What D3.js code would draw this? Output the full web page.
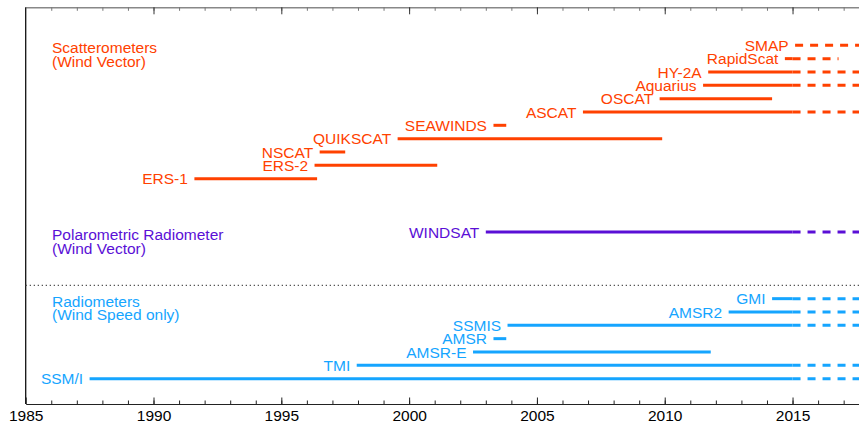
<!DOCTYPE html>
<html lang="en">
<head>
  <meta charset="UTF-8">
  <title>Ocean Wind Satellite Missions</title>
  <script src="https://d3js.org/d3.v7.min.js"></script>
  <style>
    body {
      margin: 0;
      background: #fff;
      font-family: "Liberation Sans", Arial, sans-serif;
    }

    .label {
      font-size: 15.5px;
    }

    .title {
      font-size: 15.5px;
    }
  </style>
</head>
<body>
  <div id="chart"></div>

  <script>
    // Mission data: name, start year, end year (null = still flying), row, group
    const groups = ["Scatterometers", "Polarometric Radiometer", "Radiometers"];
    const groupSubtitles = ["(Wind Vector)", "(Wind Vector)", "(Wind Speed only)"];
    const groupColors = ["#ff4100", "#5a0fd6", "#15a5ff"];

    const names = [
      "SMAP", "RapidScat", "HY-2A", "Aquarius", "OSCAT", "ASCAT", "SEAWINDS", "QUIKSCAT", "NSCAT", "ERS-2", "ERS-1",
      "WINDSAT",
      "GMI", "AMSR2", "SSMIS", "AMSR", "AMSR-E", "TMI", "SSM/I"
    ];
    const starts = [
      2015.1, 2014.7, 2011.7, 2011.5, 2009.8, 2006.8, 2003.3, 1999.55, 1996.5, 1996.3, 1991.6,
      2003.0,
      2014.2, 2012.5, 2003.85, 2003.3, 2002.5, 1997.95, 1987.5
    ];
    const ends = [
      null, 2016.8, null, null, 2014.2, null, 2003.8, 2009.9, 1997.5, 2001.1, 1996.4,
      null,
      null, null, null, 2003.8, 2011.8, null, null
    ];
    const rows = [
      25, 24, 23, 22, 21, 20, 19, 18, 17, 16, 15,
      11,
      6, 5, 4, 3, 2, 1, 0
    ];
    const groupOf = [
      0, 0, 0, 0, 0, 0, 0, 0, 0, 0, 0,
      1,
      2, 2, 2, 2, 2, 2, 2
    ];
    const separatorRow = 7;
    const solidUntil = 2015;
    const axisEnd = 2017.6;

    const width = 859;
    const height = 429;

    const svg = d3.select("#chart")
      .append("svg")
      .attr("width", width)
      .attr("height", height);

    const x = d3.scaleLinear()
      .domain([1985, axisEnd])
      .range([25.7, width]);

    const y = d3.scaleLinear()
      .domain([-1.9, 27.85])
      .range([404, 7.3]);

    const missions = names.map((n, i) => ({
      name: n,
      start: starts[i],
      end: ends[i],
      row: rows[i],
      group: groupOf[i]
    }));

    // top frame axis (gray, ticks pointing down)
    const topMinor = svg.append("g")
      .attr("transform", `translate(0,${y(27.85)})`)
      .call(d3.axisTop(x).tickValues(d3.range(1986, 2018)).tickSizeInner(-3.5).tickSizeOuter(0).tickFormat(""));
    const topMajor = svg.append("g")
      .attr("transform", `translate(0,${y(27.85)})`)
      .call(d3.axisTop(x).tickValues(d3.range(1990, 2018, 5)).tickSizeInner(-7).tickSizeOuter(0).tickFormat(""));
    topMinor.selectAll("line").attr("stroke", "#777");
    topMajor.selectAll("line").attr("stroke", "#333");
    topMinor.select(".domain").attr("stroke", "#888").attr("stroke-width", 1.5);
    topMajor.select(".domain").remove();

    // bottom axis (ticks pointing up)
    const bottomMinor = svg.append("g")
      .attr("class", "axis")
      .attr("transform", `translate(0,${y(-1.9)})`)
      .call(d3.axisBottom(x).tickValues(d3.range(1986, 2018)).tickSizeInner(-3.5).tickSizeOuter(0).tickFormat(""));
    const bottomMajor = svg.append("g")
      .attr("class", "axis")
      .attr("transform", `translate(0,${y(-1.9)})`)
      .call(d3.axisBottom(x).tickValues(d3.range(1985, 2018, 5)).tickSizeInner(-6.5).tickSizeOuter(0).tickPadding(6).tickFormat(d3.format("d")));
    bottomMinor.select(".domain").attr("stroke", "#222");
    bottomMajor.select(".domain").remove();
    bottomMajor.attr("font-size", 15.5).attr("font-family", "'Liberation Sans', Arial, sans-serif");
    bottomMajor.selectAll("text").attr("fill", "#000");
    svg.selectAll(".axis line").attr("stroke", "#222");

    // left frame line
    svg.append("line")
      .attr("x1", x(1985)).attr("x2", x(1985))
      .attr("y1", y(27.85)).attr("y2", y(-1.9))
      .attr("stroke", "#111")
      .attr("stroke-width", 1.3);

    // dotted separator between vector and speed-only instruments
    svg.append("line")
      .attr("x1", x(1985)).attr("x2", width)
      .attr("y1", y(separatorRow)).attr("y2", y(separatorRow))
      .attr("stroke", "#555")
      .attr("stroke-width", 1.2)
      .attr("stroke-dasharray", "1.3,2.7");

    // group titles
    groups.forEach((g, gi) => {
      const topRow = d3.max(missions.filter(m => m.group === gi), m => m.row);
      const t = svg.append("text")
        .attr("class", "title")
        .attr("x", 52)
        .attr("y", y(topRow) + 8)
        .attr("fill", groupColors[gi]);
      t.append("tspan").attr("x", 52).text(g);
      t.append("tspan").attr("x", 52).attr("dy", 13.6).text(groupSubtitles[gi]);
    });

    const bars = svg.selectAll(".mission")
      .data(missions)
      .enter()
      .append("g")
      .attr("class", "mission");

    // solid part of each mission
    bars.append("line")
      .attr("x1", d => x(d.start))
      .attr("x2", d => x(Math.min(d.end === null ? solidUntil : d.end, solidUntil)))
      .attr("y1", d => y(d.row))
      .attr("y2", d => y(d.row))
      .attr("stroke", d => groupColors[d.group])
      .attr("stroke-width", 3)
      .style("display", d => d.start >= solidUntil ? "none" : null);

    // dashed part after 2015 (planned / extended)
    bars.filter(d => d.end === null || d.end > solidUntil)
      .append("line")
      .attr("x1", d => x(Math.max(d.start, solidUntil)))
      .attr("x2", d => x(d.end === null ? axisEnd : d.end))
      .attr("y1", d => y(d.row))
      .attr("y2", d => y(d.row))
      .attr("stroke", d => groupColors[d.group])
      .attr("stroke-width", 3)
      .attr("stroke-dasharray", "8,7");

    // mission names to the left of each bar
    bars.append("text")
      .attr("class", "label")
      .attr("x", d => x(d.start) - 6.5)
      .attr("y", d => y(d.row))
      .attr("dy", "0.36em")
      .attr("text-anchor", "end")
      .attr("fill", d => groupColors[d.group])
      .text(d => d.name);
  </script>
</body>
</html>
